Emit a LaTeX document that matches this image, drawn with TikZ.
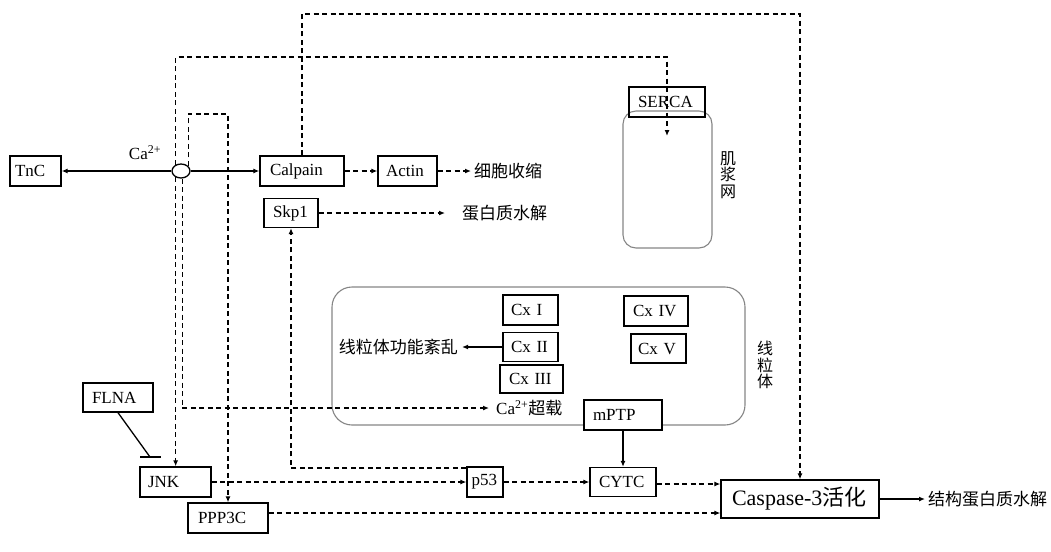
\documentclass[tikz,border=0pt]{standalone}
\usepackage{fontspec}
\setmainfont{Liberation Serif}
\newfontfamily\zhfont{Noto Sans CJK SC}
\usetikzlibrary{arrows.meta,shapes.geometric,calc}

\begin{document}
\begin{tikzpicture}[x=1pt,y=-1pt,
  every node/.style={font=\fontsize{17}{19}\selectfont},
  box/.style={draw, line width=1.3pt, inner xsep=9pt, inner ysep=0pt, minimum height=30pt, align=left},
  zh/.style={font=\fontsize{17}{19}\selectfont\zhfont, inner sep=0pt},
  zhv/.style={font=\fontsize{16}{16.5}\selectfont\zhfont, inner sep=0pt, align=center},
  organelle/.style={draw=black!48, line width=1.1pt, inner sep=0pt},
  solidarr/.style={line width=1.4pt, -{Latex[length=6pt,width=5pt]}},
  dasharr/.style={line width=1.4pt, dash pattern=on 5pt off 3.5pt, -{Latex[length=6pt,width=5pt]}},
  inhib/.style={line width=1.3pt}
]
\useasboundingbox (0,0) rectangle (1051,551);

% organelle outlines
\node[organelle, rounded corners=13pt, minimum width=89pt, minimum height=137pt] (sr) at (667.5,179.5) {};
\node[organelle, rounded corners=20pt, minimum width=413pt, minimum height=138pt] (mito) at (538.5,356) {};
\node[zhv] (srlab) at (728,175) {肌\\浆\\网};
\node[zhv] (mitolab) at (765,365) {线\\粒\\体};

% calcium node and its targets
\node[draw, ellipse, line width=1.3pt, minimum width=18pt, minimum height=14pt, inner sep=0pt] (ca) at (181,171) {};
\node[inner sep=0pt] (calab) at (145,153) {Ca\textsuperscript{2+}};
\node[box, text width=41pt, inner xsep=5pt] (tnc) at (35.5,171) {TnC};
\node[box, text width=64pt, inner xsep=10pt] (calpain) at (302,171) {Calpain};
\node[box, text width=43pt, inner xsep=8pt] (actin) at (407.5,171) {Actin};
\node[zh, anchor=west] (shrink) at (474,171) {细胞收缩};
\node[box, text width=36pt, minimum height=29pt] (skp) at (291,213) {Skp1};
\node[zh, anchor=west] (prot) at (462,213) {蛋白质水解};
\node[box, text width=58pt] (serca) at (667,102) {SERCA};
\coordinate (srin) at (667,136);

% mitochondrial complexes
\node[box, text width=39pt, inner xsep=8pt] (cx1) at (530.5,310) {Cx I};
\node[box, text width=39pt, inner xsep=8pt, minimum height=29pt] (cx2) at (530.5,347) {Cx II};
\node[box, text width=45pt, inner xsep=9pt, minimum height=28pt] (cx3) at (531.5,379) {Cx III};
\node[box, text width=46pt, inner xsep=9pt] (cx4) at (656,311) {Cx IV};
\node[box, text width=41pt, inner xsep=7pt, minimum height=29pt] (cx5) at (658.5,348.5) {Cx V};
\node[zh, anchor=east] (dys) at (458,347) {线粒体功能紊乱};
\node[inner sep=0pt, anchor=west] (over) at (496,408) {Ca\textsuperscript{2+}{\zhfont 超载}};
\node[box, fill=white, text width=60pt] (mptp) at (623,415) {mPTP};

% apoptosis chain
\node[box, text width=48pt, minimum height=29pt] (cytc) at (623,482) {CYTC};
\node[box, text width=27pt, inner xsep=4.5pt] (p53) at (485,482) {p53};
\node[box, text width=55pt, inner xsep=8pt] (jnk) at (175.5,482) {JNK};
\node[box, text width=60pt, inner xsep=10pt] (ppp) at (228,518) {PPP3C};
\node[box, text width=52pt, minimum height=29pt] (flna) at (118,397.5) {FLNA};
\node[box, text width=136pt, inner xsep=11pt, minimum height=38pt,
      font=\fontsize{22}{24}\selectfont] (casp) at (800,499) {Caspase-3{\zhfont 活化}};
\node[zh, anchor=west] (struct) at (928,499) {结构蛋白质水解};

% routing points
\coordinate (c2) at (800,14);
\coordinate (c3) at (667,57);
\coordinate (c4) at (ppp.north |- 0,114);
\coordinate (pk) at ($(p53.west)+(0,-14)$);
\coordinate (pp) at ($(ppp.east)+(0,-5)$);
\coordinate (cc) at ($(cytc.east)+(0,2)$);
\coordinate (inh) at (150,457);

% solid connectors
\draw[solidarr] (ca.west) -- (tnc.east);
\draw[solidarr] (ca.east) -- (calpain.west);
\draw[solidarr] (cx2.west) -- ([xshift=4pt]dys.east);
\draw[solidarr] (mptp.south) -- (cytc.north);
\draw[solidarr] (casp.east) -- ([xshift=-3pt]struct.west);
\draw[inhib] (flna.south) -- (inh);
\draw[inhib] ($(inh)+(-10,0)$) -- ($(inh)+(11,0)$);

% dashed connectors
\draw[dasharr] (calpain.east) -- (actin.west);
\draw[dasharr] (actin.east) -- ([xshift=-3pt]shrink.west);
\draw[dasharr] (skp.east) -- ([xshift=-17pt]prot.west);
\draw[dasharr] (calpain.north) |- (c2) -- (casp.north);
\draw[dasharr] (ca.130) |- (c3) -- (srin);
\draw[dasharr] (ca.35) |- (c4) -- (ppp.north);
\draw[dasharr] (ca.-130) -- (ca.-130 |- jnk.north);
\draw[dasharr] (ca.-80) |- ([xshift=-7pt]over.west);
\draw[dasharr] (pk) -| (skp.south);
\draw[dasharr] (jnk.east) -- (jnk.east -| p53.west);
\draw[dasharr] (p53.east) -- (p53.east -| cytc.west);
\draw[dasharr] (cc) -- (cc -| casp.west);
\draw[dasharr] (pp) -- (pp -| casp.west);
\end{tikzpicture}
\end{document}
